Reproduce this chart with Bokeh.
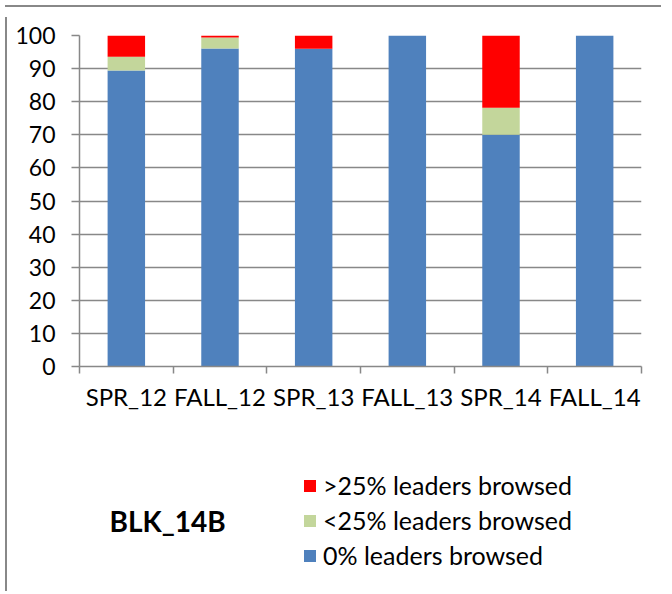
from bokeh.plotting import figure
from bokeh.models import (Range1d, LinearAxis, FixedTicker, Legend, LegendItem, Label,
                          ColumnDataSource, Div)
from bokeh.layouts import column, row
from bokeh.embed import file_html
from bokeh.resources import INLINE

categories = ["SPR_12", "FALL_12", "SPR_13", "FALL_13", "SPR_14", "FALL_14"]
zero_pct = [89.4, 96.1, 96.0, 100.0, 70.0, 100.0]
lt25_pct = [4.2, 3.3, 0.0, 0.0, 8.2, 0.0]
gt25_pct = [6.4, 0.6, 4.0, 0.0, 21.8, 0.0]
y_ticks = list(range(0, 101, 10))
series = ["0% leaders browsed", "<25% leaders browsed", ">25% leaders browsed"]
colors = ["#4F81BD", "#C3D69B", "#FF0000"]
chart_title = "BLK_14B"

FONT = "Lato"
GRID = "#888888"

n = len(categories)
centers = [i + 0.5 for i in range(n)]
edges = list(range(n + 1))
src = ColumnDataSource(dict(x=centers, s0=zero_pct, s1=lt25_pct, s2=gt25_pct))

# ---- chart figure ----
p = figure(width=654, height=420, x_range=Range1d(0, n),
           y_range=Range1d(0, 100), output_backend="svg", toolbar_location=None,
           x_axis_location=None, y_axis_location=None,
           min_border_left=64, min_border_top=23, min_border_right=25, min_border_bottom=66)
p.outline_line_color = None

p.vbar_stack(["s0", "s1", "s2"], x="x", width=0.4, source=src,
             color=colors, line_color=None)

x_axis = LinearAxis(ticker=FixedTicker(ticks=centers, minor_ticks=edges),
                    major_label_overrides={c: lab for c, lab in zip(centers, categories)},
                    axis_line_color=GRID, axis_line_width=1.5,
                    major_tick_line_color=None, major_tick_out=7, major_tick_in=0,
                    minor_tick_line_color=GRID, minor_tick_line_width=1.5,
                    minor_tick_out=7, minor_tick_in=0,
                    major_label_text_font=FONT, major_label_text_font_size="24px",
                    major_label_text_color="black", major_label_standoff=8)
p.add_layout(x_axis, "below")

y_axis = LinearAxis(ticker=FixedTicker(ticks=y_ticks), major_tick_out=8, major_tick_in=0,
                    minor_tick_line_color=None, axis_line_color=GRID, axis_line_width=1.5,
                    major_tick_line_color=GRID, major_tick_line_width=1.5,
                    major_label_text_font=FONT, major_label_text_font_size="23px",
                    major_label_text_color="black", major_label_standoff=16)
p.add_layout(y_axis, "left")

p.xgrid.grid_line_color = None
p.ygrid.ticker = FixedTicker(ticks=y_ticks)
p.ygrid.grid_line_color = GRID
p.ygrid.grid_line_width = 1.5

# ---- legend / title panel (frame aligned with the chart frame) ----
p2 = figure(width=654, height=154, x_range=Range1d(0, n), y_range=Range1d(0, 100),
            output_backend="svg", toolbar_location=None,
            x_axis_location=None, y_axis_location=None,
            min_border_left=0, min_border_right=0, min_border_top=0, min_border_bottom=0)
p2.outline_line_color = None
p2.xgrid.visible = False
p2.ygrid.visible = False
legend_rs = p2.vbar_stack(["s0", "s1", "s2"], x="x", width=0.4, source=src,
                          color=colors, line_color=None)
for r in legend_rs:
    r.visible = False

items = [LegendItem(label=series[i], renderers=[legend_rs[i]]) for i in (2, 1, 0)]
legend = Legend(items=items, location=(223, 16), orientation="vertical",
                glyph_width=15, glyph_height=15, label_height=30, spacing=5,
                label_standoff=6, padding=0, margin=0,
                label_text_font=FONT, label_text_font_size="25px", label_text_color="black",
                inactive_fill_alpha=0, click_policy="none",
                border_line_color=None, background_fill_alpha=0)
p2.add_layout(legend, "center")

p2.add_layout(Label(x=30, y=66, x_units="screen", y_units="screen", text=chart_title,
                    text_font=FONT, text_font_size="28px", text_font_style="bold",
                    text_color="black", text_baseline="middle", text_align="left"))

# ---- chart border (top and left) ----
top_line = Div(width=656, height=2, styles={"background-color": GRID})
left_line = Div(width=2, height=574, styles={"background-color": GRID})

layout = column(top_line, row(left_line, column(p, p2, spacing=0), spacing=0), spacing=0)

open("out.html", "w").write(file_html(layout, INLINE))
